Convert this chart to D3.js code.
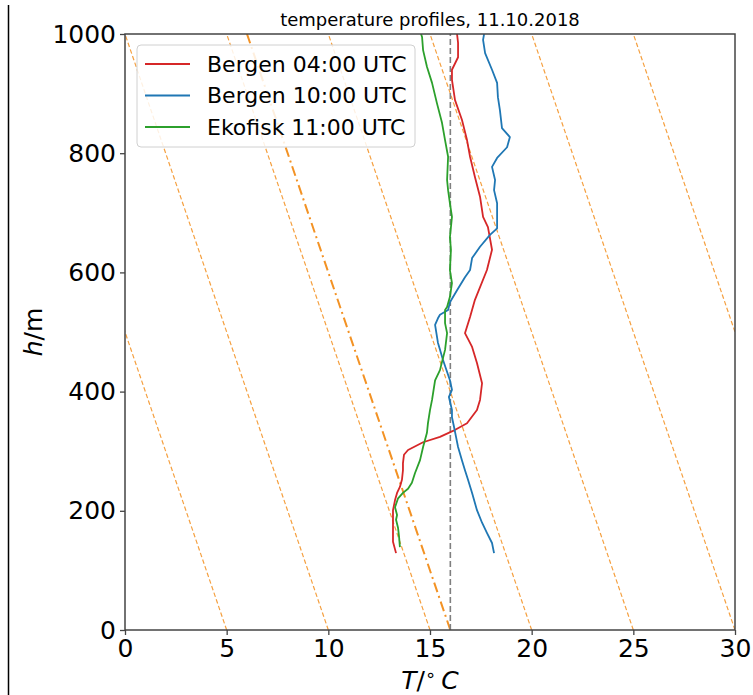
<!DOCTYPE html>
<html>
<head>
<meta charset="utf-8">
<script src="https://cdn.jsdelivr.net/npm/d3@7"></script>
<style>
  html, body { margin: 0; padding: 0; background: #fff; }
  svg { display: block; font-family: "DejaVu Sans", sans-serif; }
</style>
</head>
<body>
<div id="chart"></div>
<script>
// ---------- data ----------
const title = "temperature profiles, 11.10.2018";
const seriesNames = ["Bergen 04:00 UTC", "Bergen 10:00 UTC", "Ekofisk 11:00 UTC"];
const seriesColors = ["#d62728", "#1f77b4", "#2ca02c"];

const bergen04H = [129,148,163,178,201,218,230,240,252,268,280,294,302,315,324,334,347,369,386,414,448,475,498,525,554,604,638,676,693,727,760,794,822,856,889,923,940,961,985,1000];
const bergen04T = [13.33,13.18,13.18,13.18,13.18,13.28,13.38,13.52,13.62,13.67,13.67,13.72,13.92,14.66,15.49,16.13,16.82,17.31,17.46,17.56,17.31,17.07,16.72,16.97,17.21,17.80,18.05,17.85,17.61,17.46,17.21,16.97,16.82,16.57,16.23,16.08,16.08,16.38,16.38,16.33];

const bergen10H = [129,146,163,180,201,230,252,268,285,307,324,341,357,369,391,403,419,453,482,512,523,529,537,550,570,592,604,624,643,663,674,700,716,738,755,777,792,810,827,842,872,894,918,940,968,990,1000];
const bergen10T = [18.15,18.05,17.80,17.56,17.31,17.07,16.87,16.72,16.57,16.38,16.28,16.18,16.08,16.08,15.93,16.08,15.98,15.64,15.39,15.25,15.39,15.49,15.89,15.98,16.33,16.72,16.97,17.07,17.46,17.95,18.30,18.30,18.30,18.15,18.20,18.05,18.30,18.79,18.93,18.54,18.44,18.34,18.30,18.05,17.71,17.61,17.66];

const ekofiskH = [139,156,171,185,193,206,221,230,237,247,263,285,307,331,347,369,386,419,436,470,498,515,537,542,559,582,604,638,659,693,716,738,755,794,822,851,884,918,945,973,995,1000];
const ekofiskT = [13.52,13.48,13.43,13.33,13.38,13.28,13.43,13.67,13.92,14.11,14.26,14.51,14.66,14.85,14.90,15.00,15.10,15.25,15.49,15.74,15.84,15.74,15.74,15.84,15.98,16.08,15.98,16.03,15.98,16.08,15.98,15.89,15.84,15.89,15.74,15.59,15.34,15.10,14.85,14.66,14.61,14.56];

const adiabatSurfaceT = [0,5,10,15,20,25,30,35,40]; // dry adiabats, T at h=0
const referenceT = 16;                           // reference surface temperature
const lapseRate = 0.01;                          // K per m
const xTicks = [0,5,10,15,20,25,30];
const yTicks = [0,200,400,600,800,1000];

// ---------- layout ----------
const W = 753, H = 695;
const L = 125, R = 735, T = 34, B = 630;

const svg = d3.select("#chart").append("svg").attr("width", W).attr("height", H);

const x = d3.scaleLinear().domain([0, 30]).range([L, R]);
const y = d3.scaleLinear().domain([0, 1000]).range([B, T]);

// left figure border line
svg.append("line").attr("x1", 8.5).attr("x2", 8.5).attr("y1", 5).attr("y2", H)
  .attr("stroke", "#000").attr("stroke-width", 1.5);

svg.append("defs").append("clipPath").attr("id", "clip")
  .append("rect").attr("x", L).attr("y", T).attr("width", R - L).attr("height", B - T);

const plot = svg.append("g").attr("clip-path", "url(#clip)");

// dry adiabats
const adLine = d3.line().x(d => x(d[0])).y(d => y(d[1]));
adiabatSurfaceT.forEach(t0 => {
  plot.append("path")
    .attr("d", adLine([[t0, 0], [t0 - lapseRate * 1000, 1000]]))
    .attr("fill", "none").attr("stroke", "#f5a040").attr("stroke-width", 1.2)
    .attr("stroke-dasharray", "4.5,2.5");
});
// reference adiabat (dash-dot)
plot.append("path")
  .attr("d", adLine([[referenceT, 0], [referenceT - lapseRate * 1000, 1000]]))
  .attr("fill", "none").attr("stroke", "#f39224").attr("stroke-width", 2)
  .attr("stroke-dasharray", "10,4,2,4");
// reference vertical
plot.append("path")
  .attr("d", adLine([[referenceT, 0], [referenceT, 1000]]))
  .attr("fill", "none").attr("stroke", "#7f7f7f").attr("stroke-width", 1.6)
  .attr("stroke-dasharray", "6,3");

// profiles
const profiles = [
  {T: bergen04T, H: bergen04H},
  {T: bergen10T, H: bergen10H},
  {T: ekofiskT, H: ekofiskH}
];
const pLine = d3.line().x(d => x(d[0])).y(d => y(d[1]));
profiles.forEach((p, i) => {
  plot.append("path")
    .attr("d", pLine(p.T.map((t, k) => [t, p.H[k]])))
    .attr("fill", "none").attr("stroke", seriesColors[i]).attr("stroke-width", 1.8)
    .attr("stroke-linejoin", "round");
});

// axes
const xAxis = svg.append("g").attr("transform", `translate(0,${B})`)
  .call(d3.axisBottom(x).tickValues(xTicks).tickSize(5).tickPadding(4).tickFormat(d3.format("d")));
const yAxis = svg.append("g").attr("transform", `translate(${L},0)`)
  .call(d3.axisLeft(y).tickValues(yTicks).tickSize(5).tickPadding(4).tickFormat(d3.format("d")));
[xAxis, yAxis].forEach(a => {
  a.selectAll("text").attr("font-size", 25).attr("fill", "#000").attr("font-family", "DejaVu Sans");
  a.selectAll("line").attr("stroke", "#444").attr("stroke-width", 1.3);
  a.select(".domain").remove();
});
xAxis.selectAll("text").attr("dy", "0.71em");
// frame
svg.append("rect").attr("x", L).attr("y", T).attr("width", R - L).attr("height", B - T)
  .attr("fill", "none").attr("stroke", "#444").attr("stroke-width", 1.5);

// title
svg.append("text").attr("x", (L + R) / 2).attr("y", 26).attr("text-anchor", "middle")
  .attr("font-size", 18).attr("fill", "#000").text(title);

// axis labels
const xl = svg.append("text").attr("x", (L + R) / 2).attr("y", 689).attr("text-anchor", "middle")
  .attr("font-size", 25).attr("fill", "#000");
xl.append("tspan").attr("font-style", "italic").text("T");
xl.append("tspan").text("/");
xl.append("tspan").attr("font-size", 18).attr("dy", -8).text("\u2218");
xl.append("tspan").attr("dy", 8).attr("font-style", "italic").text("\u2009C");

const yl = svg.append("text").attr("transform", `translate(42,${(T + B) / 2}) rotate(-90)`)
  .attr("text-anchor", "middle").attr("font-size", 25).attr("fill", "#000");
yl.append("tspan").attr("font-style", "italic").text("h");
yl.append("tspan").text("/m");

// legend
const lg = svg.append("g");
lg.append("rect").attr("x", 137).attr("y", 45).attr("width", 278).attr("height", 102)
  .attr("rx", 4).attr("fill", "#fff").attr("fill-opacity", 0.85)
  .attr("stroke", "#d0d0d0").attr("stroke-width", 1);
seriesNames.forEach((name, i) => {
  const yy = 64 + i * 31.5;
  lg.append("line").attr("x1", 145).attr("x2", 190).attr("y1", yy).attr("y2", yy)
    .attr("stroke", seriesColors[i]).attr("stroke-width", 1.8);
  lg.append("text").attr("x", 207).attr("y", yy).attr("dy", "0.36em")
    .attr("font-size", 22).attr("fill", "#000").text(name);
});
</script>
</body>
</html>
